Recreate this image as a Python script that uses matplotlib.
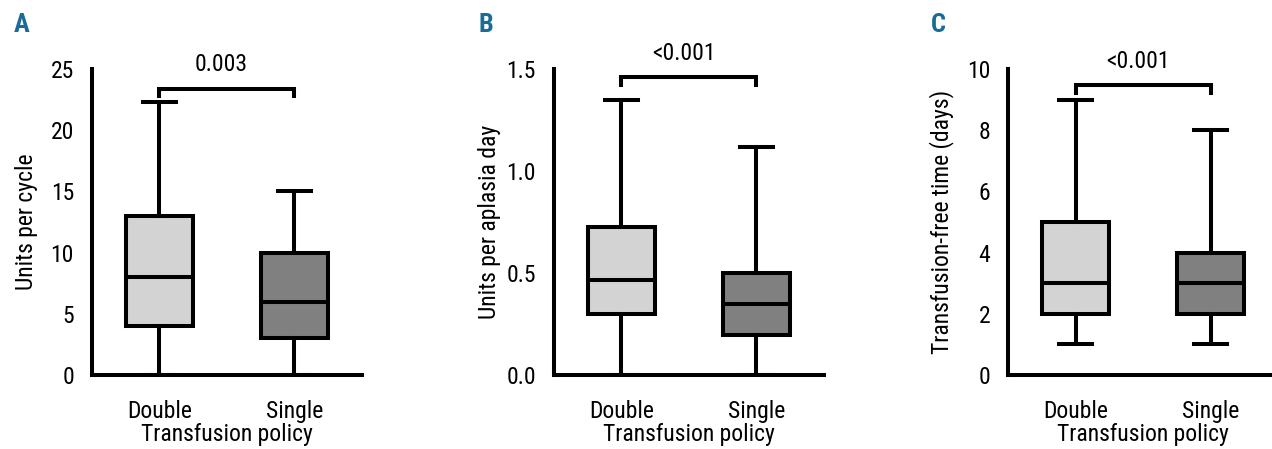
import matplotlib

matplotlib.use("Agg")

import matplotlib.pyplot as plt
from matplotlib import font_manager

# Box statistics: (whislo, q1, median, q3, whishi)
GROUPS = ["Double", "Single"]
UNITS_CYCLE = [(0, 4, 8, 13, 22.3), (0, 3, 6, 10, 15)]
UNITS_APLASIA = [(0, 0.30, 0.465, 0.725, 1.35), (0, 0.195, 0.35, 0.50, 1.12)]
FREE_TIME = [(1, 2, 3, 5, 9), (1, 2, 3, 4, 8)]
P_VALUES = ["0.003", "<0.001", "<0.001"]
Y_LABELS = ["Units per cycle", "Units per aplasia day",
            "Transfusion-free time (days)"]
Y_TICKS = [[0, 5, 10, 15, 20, 25], [0.0, 0.5, 1.0, 1.5], [0, 2, 4, 6, 8, 10]]
TICK_FMT = ["{:g}", "{:.1f}", "{:g}"]
BRACKET_Y = [23.4, 1.46, 9.47]
LETTERS = ["A", "B", "C"]

FILLS = ["#d3d3d3", "#808080"]
LETTER_COLOR = "#1a6c98"

available = {f.name for f in font_manager.fontManager.ttflist}
FONT = next((f for f in ["Liberation Sans Narrow", "Roboto Condensed",
                         "DejaVu Sans Condensed", "Liberation Sans"]
             if f in available), "DejaVu Sans")
plt.rcParams["font.family"] = [FONT, "DejaVu Sans"]

LW = 2.9
FS = 17
fig = plt.figure(figsize=(12.72, 4.49), dpi=100)
lefts = [0.0723, 0.4355, 0.7925]
letter_x = [0.011, 0.376, 0.732]
ylabel_x = [-0.244, -0.238, -0.245]

datasets = [UNITS_CYCLE, UNITS_APLASIA, FREE_TIME]
for i, data in enumerate(datasets):
    ax = fig.add_axes([lefts[i], 0.1648, 0.2123, 0.6815])
    stats = [dict(whislo=d[0], q1=d[1], med=d[2], q3=d[3], whishi=d[4],
                  label=g) for d, g in zip(data, GROUPS)]
    bp = ax.bxp(stats, positions=[1, 2], widths=0.5, showfliers=False,
                patch_artist=True,
                boxprops=dict(linewidth=LW, edgecolor="black"),
                medianprops=dict(color="black", linewidth=LW),
                whiskerprops=dict(color="black", linewidth=LW),
                capprops=dict(color="black", linewidth=LW),
                capwidths=0.25)
    for patch, c in zip(bp["boxes"], FILLS):
        patch.set_facecolor(c)
    top = Y_TICKS[i][-1]
    ax.set_xlim(0.5, 2.5)
    ax.set_ylim(0, top)
    ax.set_yticks(Y_TICKS[i])
    ax.set_yticklabels([TICK_FMT[i].format(t) for t in Y_TICKS[i]])
    ax.tick_params(axis="y", length=0, pad=13, labelsize=FS)
    ax.tick_params(axis="x", length=0, pad=18, labelsize=FS)
    for s in ["top", "right"]:
        ax.spines[s].set_visible(False)
    for s in ["left", "bottom"]:
        ax.spines[s].set_linewidth(LW)
    ax.set_ylabel(Y_LABELS[i], fontsize=FS, va="center")
    ax.yaxis.set_label_coords(ylabel_x[i], 0.5)
    ax.set_xlabel("Transfusion policy", fontsize=FS, va="bottom")
    ax.xaxis.set_label_coords(0.5, -0.232)

    # significance bracket
    by = BRACKET_Y[i]
    dy = 0.025 * top
    ax.plot([1, 1, 2, 2], [by - dy, by, by, by - dy], color="black",
            linewidth=LW, clip_on=False, solid_joinstyle="miter")
    ax.text(1.46, by + 0.04 * top, P_VALUES[i], ha="center", va="bottom",
            fontsize=FS, clip_on=False)

    fig.text(letter_x[i], 0.97, LETTERS[i], color=LETTER_COLOR,
             fontsize=19, fontweight="bold", va="top", ha="left")

fig.savefig("out.png", dpi=100)
